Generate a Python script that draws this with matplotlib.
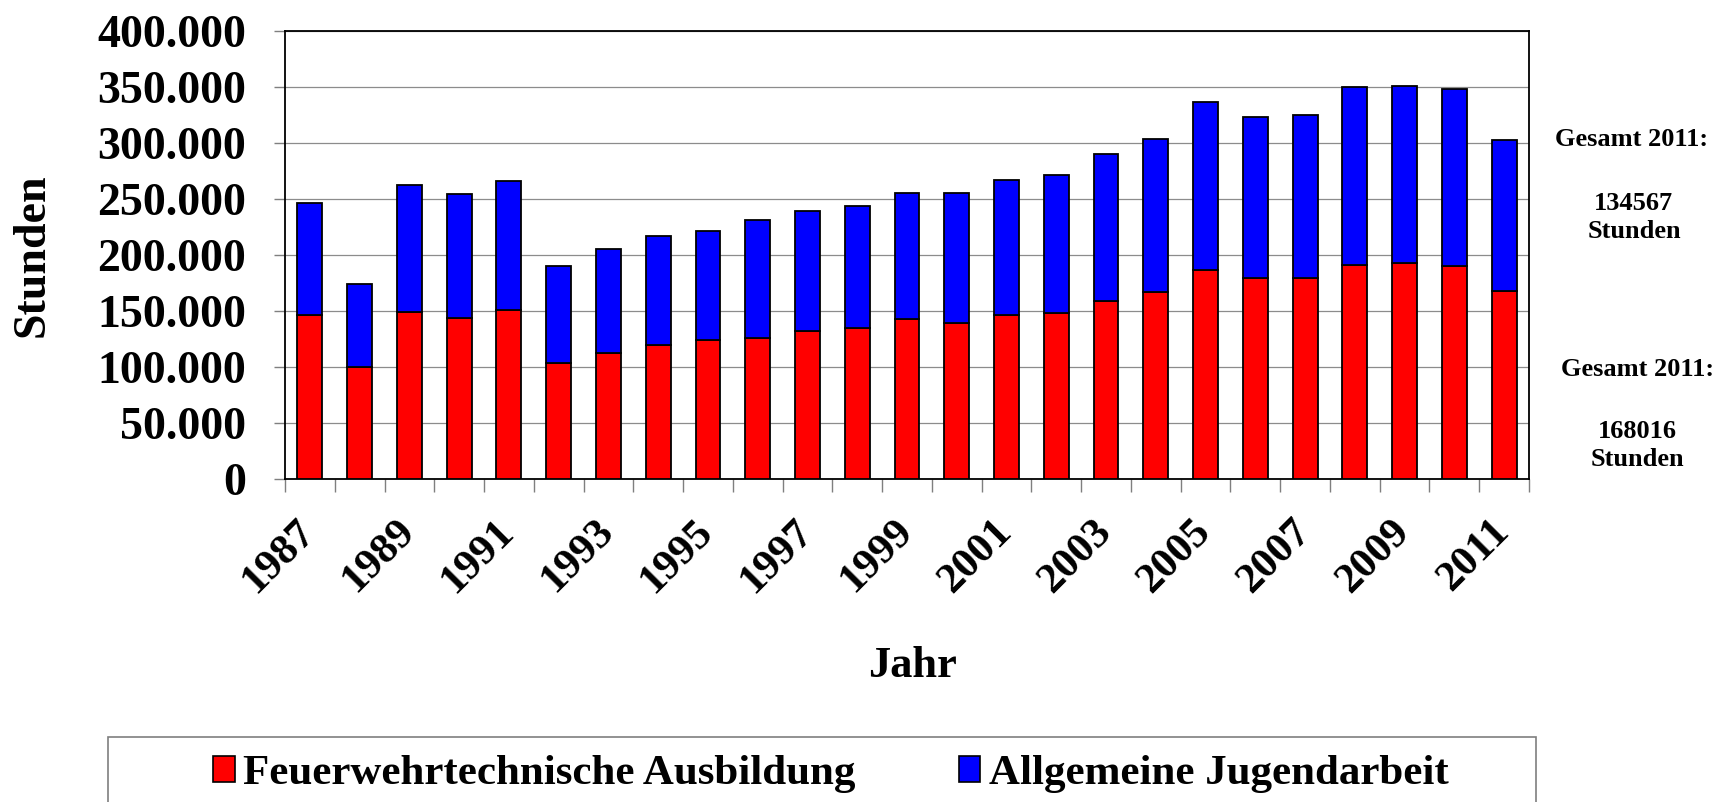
import matplotlib
matplotlib.use("Agg")
import matplotlib.pyplot as plt
import matplotlib.transforms as mtransforms
from matplotlib.patches import Rectangle, Patch
from matplotlib.ticker import FuncFormatter, FixedLocator
import numpy as np

plt.rcParams['font.family'] = ['Liberation Serif', 'DejaVu Serif']
plt.rcParams['font.weight'] = 'bold'

years = list(range(1987, 2012))
feuerwehr = [146400, 100000, 149400, 143400, 151200, 103300, 112800, 119600, 124100,
             125900, 132100, 134500, 142600, 139000, 146400, 148200, 159200, 166700,
             186300, 179500, 179500, 191000, 193100, 189900, 168016]
jugendarbeit = [100000, 73800, 113400, 111300, 115200, 86600, 92800, 97400, 97600,
                105300, 107500, 109200, 112400, 116000, 120200, 123200, 130700, 136600,
                150000, 143400, 145500, 159000, 157500, 158300, 134567]
series_names = ["Feuerwehrtechnische Ausbildung", "Allgemeine Jugendarbeit"]
colors = ["#FF0000", "#0000FF"]
yticks = [0, 50000, 100000, 150000, 200000, 250000, 300000, 350000, 400000]
note_lines_1 = ["Gesamt 2011:", "134567", "Stunden"]
note_lines_2 = ["Gesamt 2011:", "168016", "Stunden"]

W, H = 1719, 802
fig = plt.figure(figsize=(W / 100, H / 100), dpi=100)
L, R, T, B = 285, 1529, 31, 479
ax = fig.add_axes([L / W, 1 - B / H, (R - L) / W, (B - T) / H])

x = np.arange(len(years))
ax.bar(x, feuerwehr, width=0.5, color=colors[0], edgecolor='black', linewidth=1.3, zorder=3)
ax.bar(x, jugendarbeit, width=0.5, bottom=feuerwehr, color=colors[1], edgecolor='black',
       linewidth=1.3, zorder=3)

ax.set_xlim(-0.5, len(years) - 0.5)
ax.set_ylim(0, 400000)
ax.set_yticks(yticks)
ax.yaxis.set_major_formatter(FuncFormatter(lambda v, p: f"{int(v):,}".replace(",", ".")))
ax.yaxis.grid(True, color='#8c8c8c', linewidth=0.9, zorder=0)
ax.set_axisbelow(True)

# x ticks: labels every other year at centers, tick marks at boundaries
ax.xaxis.set_major_locator(FixedLocator(x))
ax.set_xticklabels([str(y) if i % 2 == 0 else "" for i, y in enumerate(years)])
ax.xaxis.set_minor_locator(FixedLocator(np.arange(-0.5, len(years), 1.0)))
ax.tick_params(axis='x', which='major', length=0, pad=24, labelsize=31)
ax.tick_params(axis='x', which='minor', length=9, color='#7f7f7f', width=1)
ax.tick_params(axis='y', which='major', length=8, color='#7f7f7f', width=1, pad=20,
               labelsize=33)
offset = mtransforms.ScaledTranslation(13 / 100, 0, fig.dpi_scale_trans)
for lab in ax.get_xticklabels():
    lab.set_rotation(45)
    lab.set_ha('right')
    lab.set_va('top')
    lab.set_fontweight('bold')
    lab.set_transform(lab.get_transform() + offset)
for lab in ax.get_yticklabels():
    lab.set_fontweight('bold')

for s in ax.spines.values():
    s.set_linewidth(1.3)
    s.set_color('black')

ax.set_ylabel("Stunden", fontsize=33, fontweight='bold')
ax.yaxis.label.set_va('center')
ax.yaxis.set_label_coords((33 - L) / (R - L), 0.5)
ax.set_xlabel("Jahr", fontsize=32, fontweight='bold')
ax.xaxis.label.set_va('center')
ax.xaxis.set_label_coords((912 - L) / (R - L), (B - 666) / (B - T))

# side notes
for txt, (px, py) in zip(note_lines_1, [(1632, 140), (1633, 204), (1634, 231)]):
    fig.text(px / W, 1 - py / H, txt, ha='center', va='center', fontsize=19, fontweight='bold')
for txt, (px, py) in zip(note_lines_2, [(1638, 369), (1637, 432), (1637, 460)]):
    fig.text(px / W, 1 - py / H, txt, ha='center', va='center', fontsize=19, fontweight='bold')

# legend box (extends past the figure bottom)
fig.patches.append(Rectangle((108 / W, -0.2), (1536 - 108) / W, 0.2 + 1 - 737 / H,
                             transform=fig.transFigure, facecolor='none',
                             edgecolor='#7f7f7f', linewidth=1.2))
handles = [Patch(facecolor=c, edgecolor='black', linewidth=1.2) for c in colors]
fig.legend(handles, series_names, loc='center left', bbox_to_anchor=(213 / W, 1 - 774 / H),
           ncol=2, frameon=False, prop={'weight': 'bold', 'size': 31},
           handlelength=0.5, handleheight=0.55, handletextpad=0.2, columnspacing=2.4,
           borderpad=0, borderaxespad=0)

fig.savefig("out.png", dpi=100)
